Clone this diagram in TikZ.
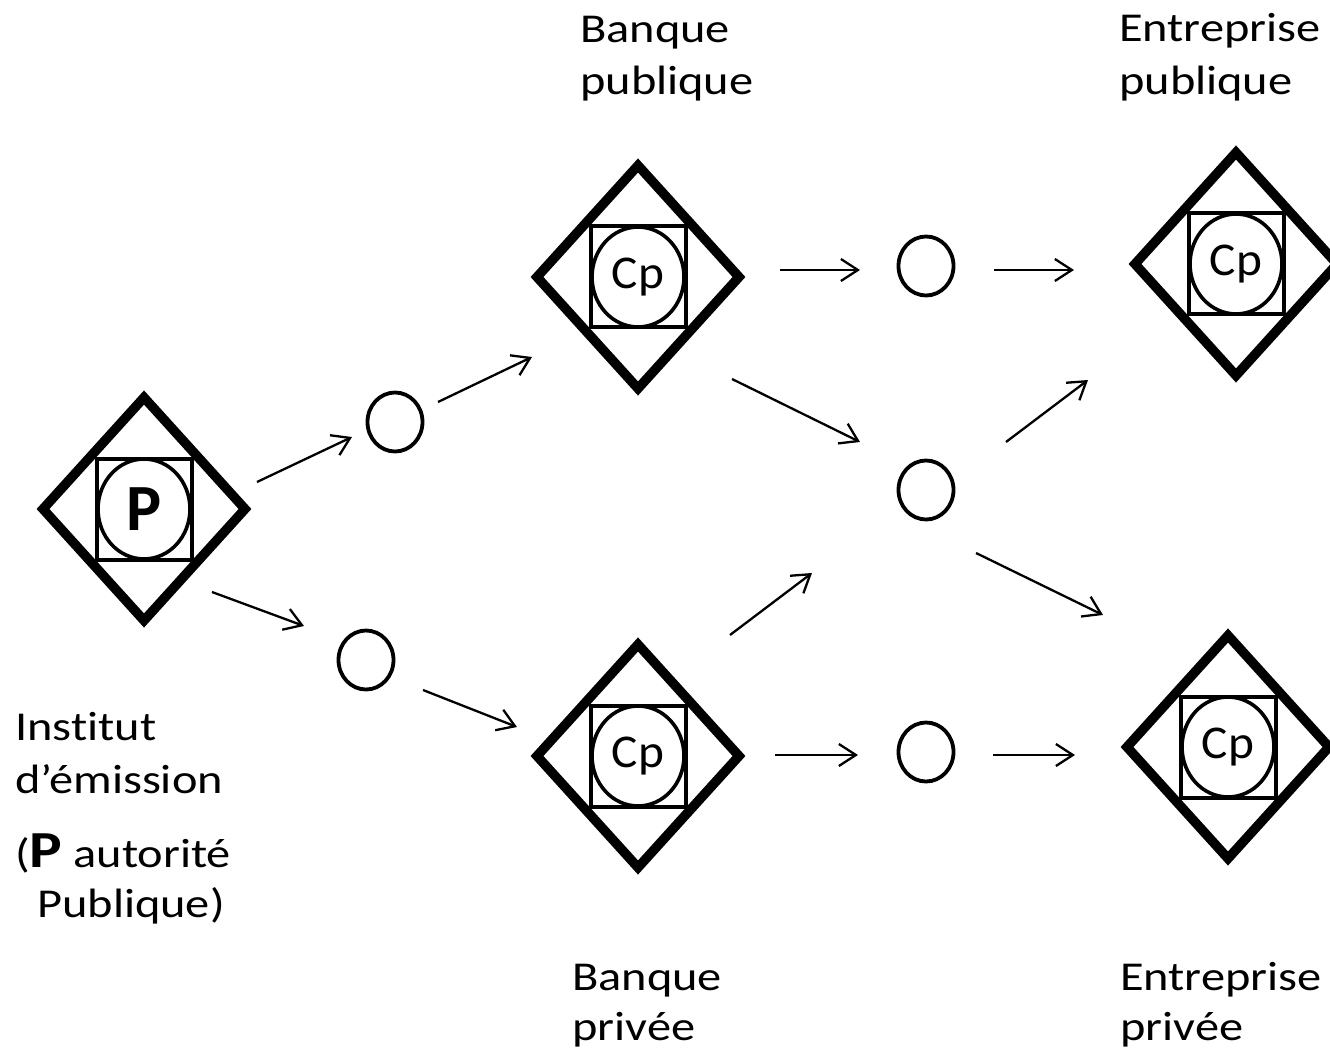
\documentclass[tikz,border=0pt]{standalone}
\usepackage{fontspec}
\setmainfont{Carlito}[Ligatures=NoCommon]
\usetikzlibrary{shapes.geometric,arrows.meta}
\tikzset{
  dia/.style={draw, diamond, line width=9.5pt, minimum width=202pt, minimum height=223pt, inner sep=0pt, outer sep=0pt},
  sq/.style={draw, rectangle, line width=4pt, minimum width=95pt, minimum height=101pt, inner sep=0pt},
  core/.style={draw, ellipse, line width=3.6pt, minimum width=92pt, minimum height=100pt, inner sep=0pt, font=\fontsize{47}{50}\selectfont},
  hub/.style={draw, ellipse, line width=3.8pt, minimum width=55pt, minimum height=59pt, inner sep=0pt},
  flow/.style={line width=2.3pt, -{Straight Barb[length=17pt,width=22pt,line width=2.3pt]}},
  lbl/.style={anchor=base west, inner sep=0pt, font=\fontsize{41}{50}\selectfont},
}
\newcommand\mkentity[4]{%
  \node[dia] (#1-d) at (#2,#3) {};
  \node[sq] (#1-s) at (#2,#3) {};
  \node[core] (#1-c) at (#2,#3) {#4};
}
\newcommand\stretchtxt[1]{\scalebox{1.18}[1]{#1}}
\newcommand\cptxt{\raisebox{-2pt}{\scalebox{1.05}[1]{Cp}}}
\begin{document}
\begin{tikzpicture}[x=1pt,y=-1pt]
\useasboundingbox (0,0) rectangle (1330,1056);
% entities
\mkentity{inst}{144}{509}{{\bfseries\fontsize{66}{66}\selectfont P}}
\mkentity{bpub}{638}{277}{\cptxt}
\mkentity{epub}{1236}{264}{\cptxt}
\mkentity{bpriv}{638}{756}{\cptxt}
\mkentity{epriv}{1228}{747}{\cptxt}
% hubs
\node[hub] (h1) at (395,422) {};
\node[hub] (h2) at (366,660) {};
\node[hub] (h3) at (926,266) {};
\node[hub] (h4) at (926,490) {};
\node[hub] (h5) at (926,752) {};
% labels
\node[lbl] (l1a) at (580,43) {\stretchtxt{Banque}};
\node[lbl] (l1b) at (580,95) {\stretchtxt{publique}};
\node[lbl] (l2a) at (1119,42) {\stretchtxt{Entreprise}};
\node[lbl] (l2b) at (1119,95) {\stretchtxt{publique}};
\node[lbl] (l3a) at (572,990) {\stretchtxt{Banque}};
\node[lbl] (l3b) at (572,1040) {\stretchtxt{privée}};
\node[lbl] (l4a) at (1120,990) {\stretchtxt{Entreprise}};
\node[lbl] (l4b) at (1120,1040) {\stretchtxt{privée}};
\node[lbl] (l5a) at (15,740) {\stretchtxt{Institut}};
\node[lbl] (l5b) at (15,793) {\stretchtxt{d’émission}};
\node[lbl] (l5c) at (15,867) {\stretchtxt{({\bfseries\fontsize{52}{52}\selectfont P} autorité}};
\node[lbl] (l5d) at (37,917) {\stretchtxt{Publique)}};
% arrow end points
\coordinate (a1s) at (257,482);  \coordinate (a1e) at (352,437);
\coordinate (a2s) at (438,402);  \coordinate (a2e) at (532,357);
\coordinate (a3s) at (212,592);  \coordinate (a3e) at (304,626);
\coordinate (a4s) at (423,690);  \coordinate (a4e) at (517,727);
\coordinate (a5s) at (780,270);  \coordinate (a5e) at (860,270);
\coordinate (a6s) at (994,270);  \coordinate (a6e) at (1074,270);
\coordinate (a7s) at (732,379);  \coordinate (a7e) at (860,442);
\coordinate (a8s) at (1006,442); \coordinate (a8e) at (1088,380);
\coordinate (a9s) at (730,635);  \coordinate (a9e) at (812,573);
\coordinate (a10s) at (976,553); \coordinate (a10e) at (1103,615);
\coordinate (a11s) at (775,755); \coordinate (a11e) at (858,755);
\coordinate (a12s) at (993,755); \coordinate (a12e) at (1075,755);
\foreach \i in {1,...,12} { \draw[flow] (a\i s) -- (a\i e); }
\end{tikzpicture}
\end{document}
